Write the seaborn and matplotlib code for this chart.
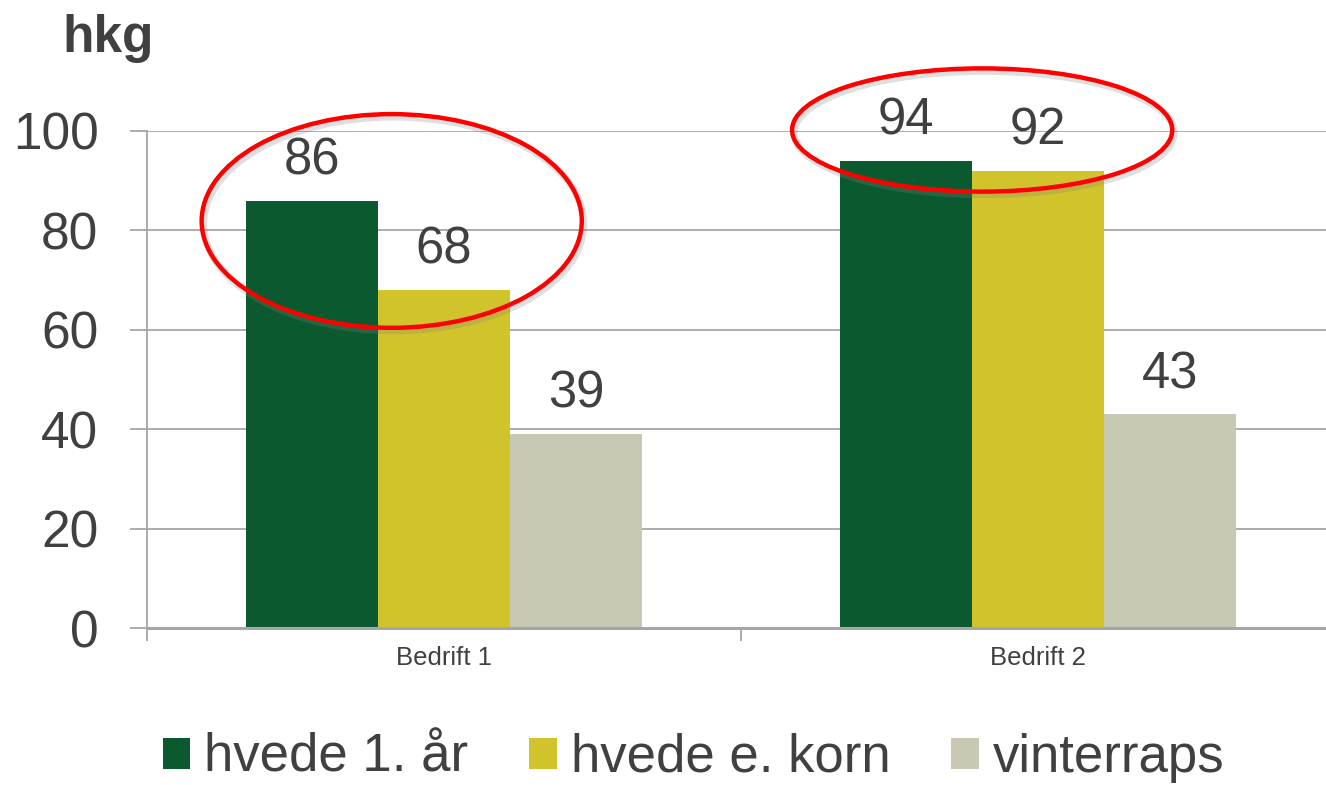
import pandas as pd
import matplotlib.pyplot as plt
import seaborn as sns
from matplotlib.patches import Ellipse
from matplotlib.transforms import offset_copy

# data
bedrifter = ['Bedrift 1', 'Bedrift 2']
crops = ['hvede 1. år', 'hvede e. korn', 'vinterraps']
hvede_1_aar = [86, 94]
hvede_e_korn = [68, 92]
vinterraps = [39, 43]
colors = ['#0B5A2F', '#D1C32B', '#C9C9B3']

df = pd.DataFrame({
    'bedrift': bedrifter * 3,
    'crop': [crops[0]] * 2 + [crops[1]] * 2 + [crops[2]] * 2,
    'hkg': hvede_1_aar + hvede_e_korn + vinterraps,
})

sns.set_style('white')
plt.rcParams['font.family'] = ['Liberation Sans', 'DejaVu Sans']
txt = '#404040'
grid_c = '#A6A6A6'

fig = plt.figure(figsize=(13.26, 7.85), dpi=100)
ax = fig.add_axes([147 / 1326, 0.2, 1188 / 1326, 497 / 785])

sns.barplot(data=df, x='bedrift', y='hkg', hue='crop', palette=colors,
            saturation=1, width=0.668, ax=ax, errorbar=None, legend=True,
            linewidth=0)

for c in ax.containers:
    ax.bar_label(c, fmt='%d', padding=11, fontsize=36.5, color=txt)

ax.set_xlim(-0.5, 1.5)
ax.set_ylim(0, 100)
ax.set_yticks(range(0, 101, 20))
ax.yaxis.grid(True, color=grid_c, lw=1.3)
ax.set_axisbelow(True)
ax.set_xlabel('')
ax.set_ylabel('')

for s in ['top', 'right']:
    ax.spines[s].set_visible(False)
ax.spines['left'].set_color(grid_c)
ax.spines['left'].set_linewidth(1.3)
ax.spines['bottom'].set_color(grid_c)
ax.spines['bottom'].set_linewidth(2.2)

ax.tick_params(axis='y', length=12, width=1.3, color=grid_c, labelsize=37,
               labelcolor=txt, pad=23, left=True)
ax.tick_params(axis='x', which='major', length=0, labelsize=18.5, labelcolor=txt, pad=13)
ax.set_xticks([-0.5, 0.5, 1.5], minor=True)
ax.tick_params(axis='x', which='minor', length=9, width=1.3, color=grid_c, bottom=True)

fig.text(62 / 1326, 1 - 52 / 785, 'hkg', fontsize=37, fontweight='bold', color=txt)

# red ellipses with a soft shadow
shadow_tr = offset_copy(ax.transData, fig=fig, x=2, y=-3, units='dots')
for cx, cy, w, h in [(-0.088, 81.9, 0.64, 43.0), (0.906, 100.2, 0.64, 24.8)]:
    ax.add_patch(Ellipse((cx, cy), w, h, fill=False, edgecolor='#808080', lw=5,
                         alpha=0.25, clip_on=False, zorder=4, transform=shadow_tr))
    ax.add_patch(Ellipse((cx, cy), w, h, fill=False, edgecolor='#FF0000', lw=3.2,
                         clip_on=False, zorder=5))

handles, labels = ax.get_legend_handles_labels()
ax.get_legend().remove()
fig.legend(handles, labels, loc='center', bbox_to_anchor=(0.523, 1 - 758 / 785), ncol=3,
           frameon=False, fontsize=38, labelcolor=txt, handlelength=0.52, handleheight=0.52,
           handletextpad=0.27, columnspacing=1.15)

fig.savefig('out.png', dpi=100)
